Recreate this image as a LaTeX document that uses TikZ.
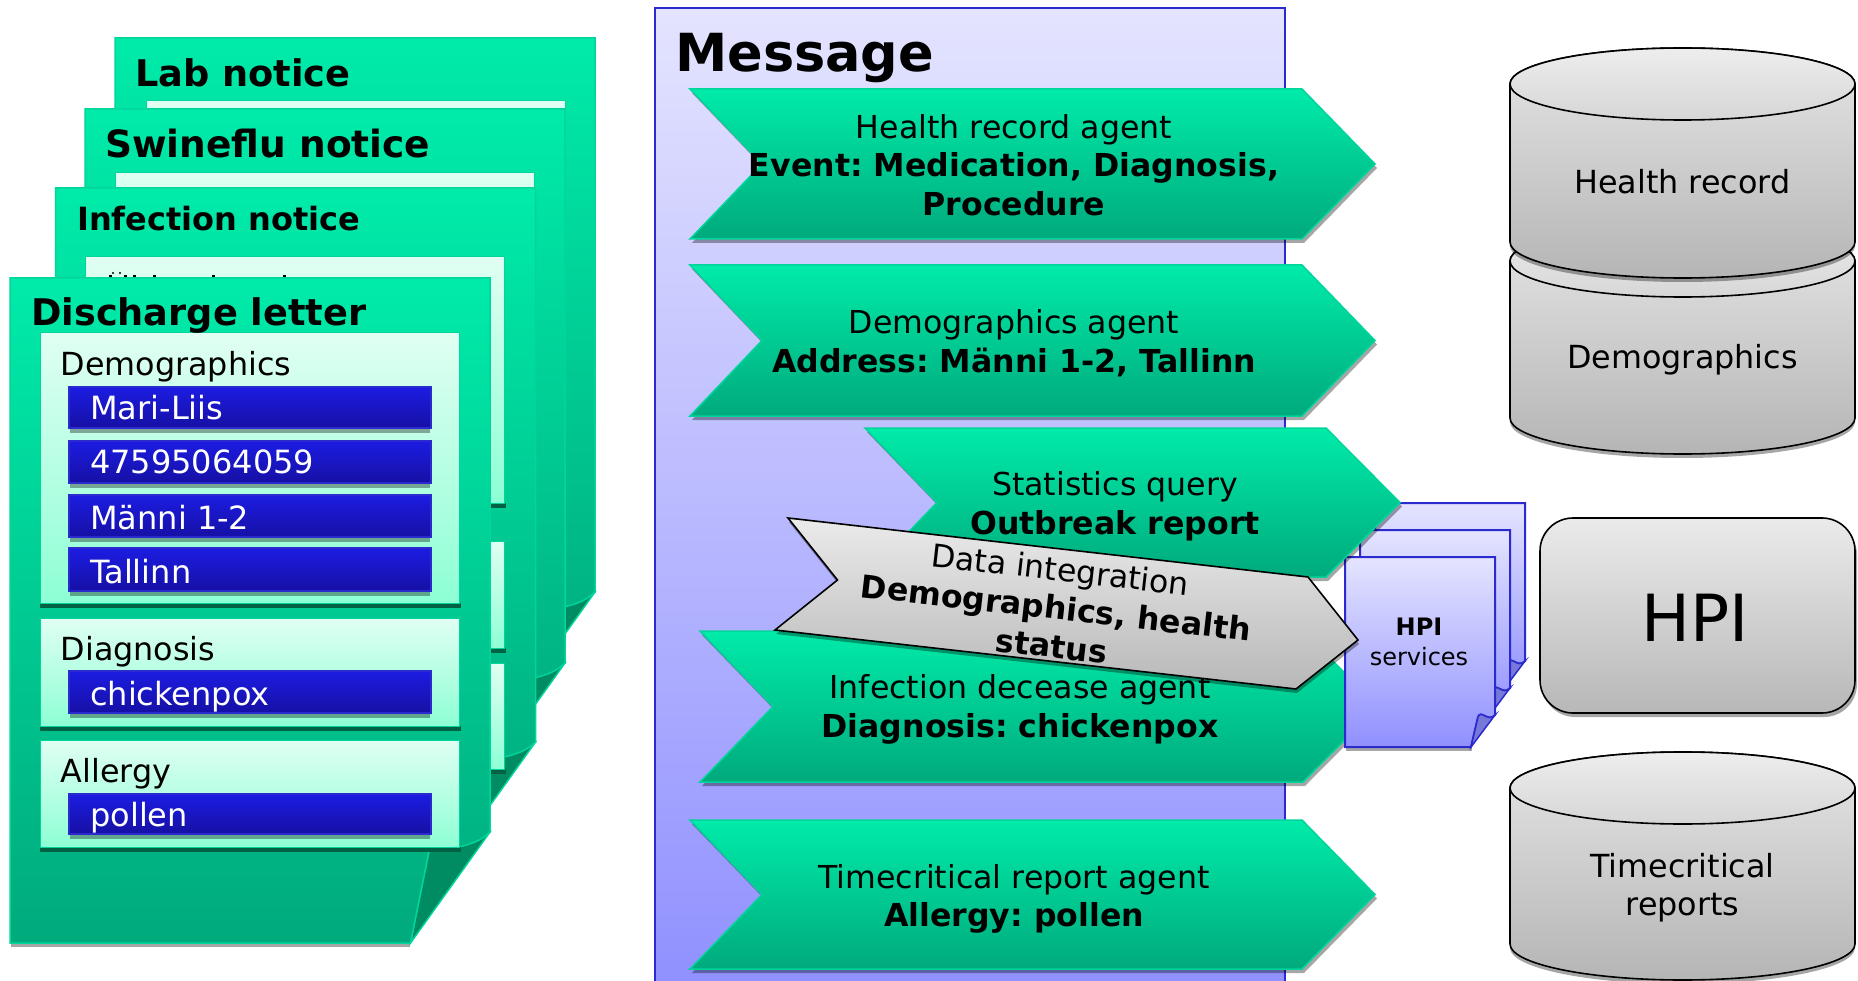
\documentclass[tikz,border=0pt]{standalone}
\usepackage{fontspec}
\setmainfont{DejaVu Sans}
\frenchspacing
\definecolor{color1}{RGB}{0, 235, 169}
\definecolor{color2}{RGB}{0, 170, 124}
\definecolor{color3}{RGB}{0, 213, 155}
\definecolor{color4}{RGB}{0, 140, 98}
\definecolor{color5}{RGB}{224, 255, 242}
\definecolor{color6}{RGB}{141, 255, 213}
\definecolor{color7}{RGB}{28, 28, 226}
\definecolor{color8}{RGB}{22, 16, 164}
\definecolor{color9}{RGB}{42, 42, 207}
\definecolor{color10}{RGB}{228, 228, 255}
\definecolor{color11}{RGB}{144, 144, 255}
\definecolor{color12}{RGB}{120, 120, 216}
\tikzset{
	sheetfill/.style={top color=color1, bottom color=color2, draw=color3, line width=1.5pt},
	panelfill/.style={top color=color5, bottom color=color6, draw=color3, line width=1pt},
	barfill/.style={top color=color7, bottom color=color8, draw=color9, line width=1.2pt},
	pagefill/.style={top color=color10, bottom color=color11, draw=color9, line width=2pt},
	greyfill/.style={top color=black!8, bottom color=black!28, draw=black, line width=1.6pt},
	capfill/.style={top color=black!7, bottom color=black!16, draw=black, line width=1.6pt},
	softshadow/.style={fill=black, opacity=0.35},
	titletext/.style={anchor=base west, inner sep=0pt, font=\fontsize{36.7}{40}\selectfont\bfseries},
	plaintext/.style={anchor=base west, inner sep=0pt, font=\fontsize{31.8}{38}\selectfont},
	bartext/.style={plaintext, text=white, font=\fontsize{32}{38}\selectfont},
	agenttext/.style={align=center, inner sep=0pt, font=\fontsize{31.6}{38.5}\selectfont},
}
% left, notch, shoulder, tip, top, bottom
\newcommand{\agentshape}[6]{
	\fill[softshadow, shift={(2,4)}] (#1,#5) -- (#3,#5) -- (#4,{(#5+#6)/2}) -- (#3,#6) -- (#1,#6) -- (#2,{(#5+#6)/2}) -- cycle;
	\shade[sheetfill] (#1,#5) -- (#3,#5) -- (#4,{(#5+#6)/2}) -- (#3,#6) -- (#1,#6) -- (#2,{(#5+#6)/2}) -- cycle;
}
% left, top (the sheet is 665 high, with its corner folded)
\newcommand{\sheetshape}[2]{
	\fill[softshadow] ({#1+1},{#2+600}) rectangle ({#1+400},{#2+669});
	\filldraw[fill=color4, draw=color3, line width=1.5pt] ({#1+480},{#2+554}) -- ({#1+400.5},{#2+665}) -- ({#1+419},{#2+573}) -- cycle;
	\shade[sheetfill] (#1,#2) -- ({#1+480},#2) -- ({#1+480},{#2+554}) .. controls ({#1+470},{#2+564}) and ({#1+455},{#2+570}) .. ({#1+419},{#2+573}) -- ({#1+400.5},{#2+665}) -- (#1,{#2+665}) -- cycle;
}
% left, top, bottom
\newcommand{\panelshape}[3]{
	\fill[color4!70!black] ({#1-1},#3) rectangle ({#1+420},{#3+4.5});
	\shade[panelfill] (#1,#2) rectangle ({#1+419},#3);
}
% top, bottom
\newcommand{\barshape}[2]{
	\fill[softshadow] (70,#2) rectangle (430,{#2+5});
	\shade[barfill] (69,#1) rectangle (431,#2);
}
% left, top
\newcommand{\pageshape}[2]{
	\fill[softshadow, shift={(1,4)}] (#1,{#2+100}) rectangle ({#1+126},{#2+190});
	\shade[pagefill] (#1,#2) -- ({#1+150},#2) -- ({#1+150},{#2+158}) .. controls ({#1+143},{#2+166}) and ({#1+136},{#2+152}) .. ({#1+133},{#2+160}) -- ({#1+126},{#2+190}) -- (#1,{#2+190}) -- cycle;
	\filldraw[fill=color12, draw=color9, line width=1.5pt] ({#1+150},{#2+158}) -- ({#1+126},{#2+190}) -- ({#1+133},{#2+160}) .. controls ({#1+136},{#2+152}) and ({#1+143},{#2+166}) .. cycle;
}
% top, bottom
\newcommand{\cylindershape}[2]{
	\fill[softshadow, shift={(0,4)}] (1510,#2) arc[start angle=180, end angle=360, x radius=172.5pt, y radius=36pt] -- cycle;
	\shade[top color=black!10, bottom color=black!29, draw=black, line width=1.6pt] (1510,#1) -- (1510,#2) arc[start angle=180, end angle=360, x radius=172.5pt, y radius=36pt] -- (1855,#1) arc[start angle=0, end angle=180, x radius=172.5pt, y radius=36pt] -- cycle;
	\shade[capfill] (1682.5,#1) ellipse (172.5pt and 36pt);
}

\begin{document}
\begin{tikzpicture}[x=1pt, y=-1pt]
	\useasboundingbox (0,0) rectangle (1858,981);

	% the four documents
	\sheetshape{115}{38}
	\panelshape{146}{101}{300}
	\node[titletext] (labtitle) at (135,87) {Lab notice};
	\sheetshape{85}{109}
	\panelshape{115.5}{173}{300}
	\node[titletext, font=\fontsize{37.5}{40}\selectfont\bfseries] (swinetitle) at (105,158) {Swineflu notice};
	\sheetshape{55.5}{188}
	\panelshape{85.5}{257}{503}
	\panelshape{85.5}{541}{648}
	\panelshape{85.5}{663}{769}
	\node[titletext, font=\fontsize{32}{36}\selectfont\bfseries] (infectiontitle) at (77,231) {Infection notice};
	\foreach \x in {109,124,133,153,212,283}
		\fill (\x,275) rectangle +(3,2);
	\fill (113,273) circle (1.2pt) (120,273) circle (1.2pt);
	\sheetshape{10}{278}
	\panelshape{40.5}{333}{603}
	\panelshape{40.5}{618}{726}
	\panelshape{40.5}{740}{847}
	\node[titletext] (dischargetitle) at (31,326) {Discharge letter};
	\node[plaintext] (demoheader) at (60.5,376) {Demographics};
	\node[plaintext] (diagheader) at (60.5,660) {Diagnosis};
	\node[plaintext] (allergyheader) at (60.5,782) {Allergy};
	\barshape{387}{428}
	\barshape{441}{483}
	\barshape{495}{537}
	\barshape{548}{591}
	\barshape{671}{713}
	\barshape{794}{834}
	\node[bartext] (namebar) at (90,420) {Mari-Liis};
	\node[bartext] (codebar) at (90,473) {47595064059};
	\node[bartext] (addressbar) at (90,529) {Männi 1-2};
	\node[bartext] (citybar) at (90,583) {Tallinn};
	\node[bartext] (diagbar) at (90,705) {chickenpox};
	\node[bartext] (allergybar) at (90,826) {pollen};

	% message column
	\shade[pagefill] (655,8) rectangle (1285,990);
	\node[titletext, font=\fontsize{52.5}{56}\selectfont\bfseries] (messagetitle) at (675,72) {Message};
	\agentshape{690}{762}{1302}{1375}{89}{239}
	\node[agenttext] (healthagent) at (1014,165) {Health record agent\\\textbf{Event: Medication, Diagnosis,}\\\textbf{Procedure}};
	\agentshape{690}{762}{1302}{1375}{265}{416}
	\node[agenttext] (demoagent) at (1014,343) {Demographics agent\\\textbf{Address: Männi 1-2, Tallinn}};
	\agentshape{690}{762}{1302}{1375}{820}{969}
	\node[agenttext] (timeagent) at (1014,899) {Timecritical report agent\\\textbf{Allergy: pollen}};
	\agentshape{700}{773}{1303}{1378}{631}{782}
	\node[agenttext] (infectionagent) at (1020,709.5) {Infection decease agent\\\textbf{Diagnosis: chickenpox}};

	% services
	\pageshape{1375}{503}
	\pageshape{1360}{530}
	\pageshape{1345}{557}
	\node[align=center, inner sep=0pt, font=\fontsize{24}{30}\selectfont] (hpiservices) at (1419,642) {\textbf{HPI}\\services};

	\agentshape{865}{937}{1326}{1400}{428}{577}
	\node[agenttext] (statagent) at (1115,506.5) {Statistics query\\\textbf{Outbreak report}};

	\fill[softshadow, shift={(1,4)}] (788,518) -- (1308,577) -- (1358,640) -- (1296,689) -- (775,630) -- (837.5,580) -- cycle;
	\shade[greyfill] (788,518) -- (1308,577) -- (1358,640) -- (1296,689) -- (775,630) -- (837.5,580) -- cycle;
	\node[agenttext, rotate=-6.5] (integration) at (1056,607.5) {Data integration\\\textbf{Demographics, health}\\\textbf{status}};

	% data stores
	\cylindershape{261}{418}
	\node[plaintext, anchor=center] (demostore) at (1682.5,360) {Demographics};
	\cylindershape{84}{242}
	\node[plaintext, anchor=center] (healthstore) at (1682.5,182) {Health record};
	\fill[softshadow, rounded corners=33pt, shift={(2,4)}] (1540,518) rectangle (1855,713);
	\shade[greyfill, rounded corners=33pt] (1540,518) rectangle (1855,713);
	\node[inner sep=0pt, font=\fontsize{65}{70}\selectfont] (hpibox) at (1695,618) {HPI};
	\cylindershape{788}{944}
	\node[plaintext, anchor=center, align=center] (timestore) at (1682.5,887.5) {Timecritical\\reports};
\end{tikzpicture}
\end{document}
